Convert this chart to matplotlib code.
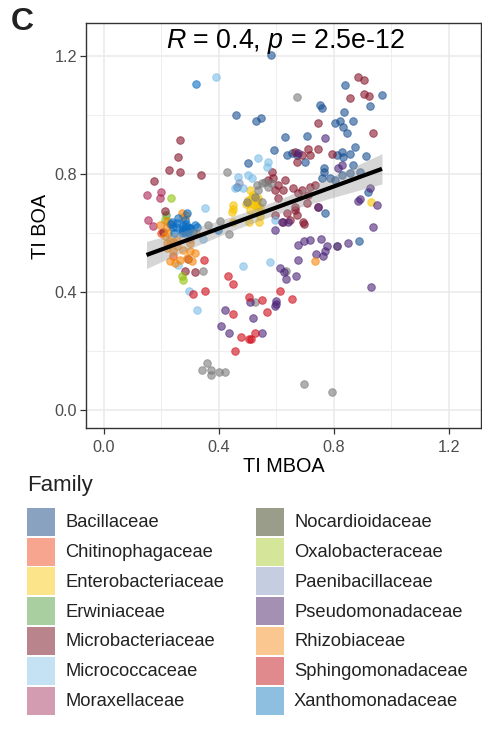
import numpy as np
import matplotlib
matplotlib.use("Agg")
import matplotlib.pyplot as plt
from matplotlib.patches import Rectangle

plt.rcParams['font.family'] = ['Liberation Sans', 'DejaVu Sans']
plt.rcParams['mathtext.fontset'] = 'custom'
plt.rcParams['mathtext.rm'] = 'Liberation Sans'
plt.rcParams['mathtext.it'] = 'Liberation Sans:italic'

# ---------------- data (TI MBOA, TI BOA) per family ----------------
families = ["Bacillaceae", "Chitinophagaceae", "Enterobacteriaceae", "Erwiniaceae",
            "Microbacteriaceae", "Micrococcaceae", "Moraxellaceae", "Nocardioidaceae",
            "Oxalobacteraceae", "Paenibacillaceae", "Pseudomonadaceae", "Rhizobiaceae",
            "Sphingomonadaceae", "Xanthomonadaceae"]

bacillaceae_mboa = [0.58, 0.459, 0.529, 0.545, 0.502, 0.591, 0.628, 0.635, 0.653, 0.67, 0.699, 0.706,
                    0.751, 0.757, 0.766, 0.766, 0.757, 0.786, 0.803, 0.803, 0.821, 0.832, 0.844, 0.835,
                    0.838, 0.867, 0.873, 0.827, 0.809, 0.856, 0.832, 0.827, 0.856, 0.867, 0.89, 0.919,
                    0.927, 0.967, 0.769, 0.887, 0.461, 0.91]
bacillaceae_boa = [1.203, 1.0, 0.981, 0.989, 0.836, 0.881, 0.925, 0.864, 0.87, 0.864, 0.842, 0.928,
                   1.033, 1.024, 0.819, 0.805, 0.785, 0.785, 0.78, 0.974, 0.981, 0.96, 0.938, 1.011,
                   1.103, 0.981, 0.893, 0.876, 0.864, 0.868, 0.859, 0.797, 0.802, 0.831, 0.808, 0.74,
                   1.031, 1.068, 0.667, 0.573, 0.757, 0.861]

chitinophagaceae_mboa = [0.2, 0.24]
chitinophagaceae_boa = [0.6, 0.52]

enterobacteriaceae_mboa = [0.508, 0.519, 0.537, 0.501, 0.519, 0.494, 0.531, 0.45, 0.45, 0.537, 0.508,
                           0.542, 0.45, 0.505, 0.928, 0.538, 0.525, 0.543, 0.502, 0.444, 0.514, 0.531]
enterobacteriaceae_boa = [0.744, 0.729, 0.717, 0.712, 0.698, 0.698, 0.696, 0.695, 0.681, 0.681, 0.676,
                          0.656, 0.638, 0.638, 0.706, 0.638, 0.695, 0.689, 0.70, 0.672, 0.723, 0.712]

erwiniaceae_mboa = [0.215]
erwiniaceae_boa = [0.66]

microbacteriaceae_mboa = [0.882, 0.906, 0.856, 0.904, 0.921, 0.743, 0.936, 0.266, 0.256, 0.227, 0.266,
                          0.337, 0.173, 0.211, 0.206, 0.664, 0.688, 0.71, 0.717, 0.67, 0.746, 0.792,
                          0.583, 0.589, 0.606, 0.63, 0.595, 0.624, 0.659, 0.688, 0.717, 0.734, 0.676,
                          0.711, 0.705, 0.664, 0.67, 0.693, 0.571, 0.606, 0.635, 0.664, 0.697, 0.746,
                          0.647, 0.624, 0.595, 0.283, 0.317, 0.293]
microbacteriaceae_boa = [1.129, 1.119, 1.057, 1.073, 1.064, 0.973, 0.939, 0.914, 0.858, 0.812, 0.806,
                         0.797, 0.776, 0.674, 0.604, 0.876, 0.866, 0.885, 0.864, 0.842, 0.884, 0.868,
                         0.808, 0.785, 0.763, 0.78, 0.746, 0.746, 0.752, 0.746, 0.757, 0.763, 0.734,
                         0.729, 0.70, 0.678, 0.661, 0.638, 0.78, 0.718, 0.667, 0.689, 0.629, 0.689,
                         0.644, 0.638, 0.661, 0.472, 0.468, 0.511]

micrococcaceae_mboa = [0.39, 0.537, 0.571, 0.566, 0.467, 0.502, 0.456, 0.514, 0.485, 0.352, 0.577,
                       0.482, 0.297, 0.325, 0.257, 0.345, 0.595]
micrococcaceae_boa = [1.13, 0.853, 0.842, 0.825, 0.791, 0.797, 0.752, 0.785, 0.752, 0.684, 0.5,
                      0.488, 0.401, 0.339, 0.492, 0.579, 0.644]

moraxellaceae_mboa = [0.148, 0.2, 0.195, 0.153, 0.172]
moraxellaceae_boa = [0.729, 0.74, 0.718, 0.644, 0.622]

nocardioidaceae_mboa = [0.67, 0.427, 0.531, 0.548, 0.56, 0.537, 0.571, 0.496, 0.549, 0.58, 0.525,
                        0.363, 0.405, 0.436, 0.343, 0.633, 0.525, 0.809, 0.36, 0.34, 0.371, 0.399,
                        0.422, 0.371, 0.696, 0.793]
nocardioidaceae_boa = [1.06, 0.808, 0.763, 0.768, 0.774, 0.746, 0.757, 0.706, 0.706, 0.768, 0.723,
                       0.625, 0.64, 0.597, 0.472, 0.472, 0.364, 0.556, 0.158, 0.133, 0.133, 0.129,
                       0.129, 0.118, 0.088, 0.061]

oxalobacteraceae_mboa = [0.232, 0.214, 0.27, 0.275]
oxalobacteraceae_boa = [0.72, 0.645, 0.452, 0.44]

paenibacillaceae_mboa = [0.3, 0.47]
paenibacillaceae_boa = [0.58, 0.77]

pseudomonadaceae_mboa = [0.769, 0.827, 0.815, 0.925, 0.89, 0.885, 0.948, 0.937, 0.746, 0.676, 0.595,
                         0.618, 0.641, 0.674, 0.697, 0.717, 0.755, 0.775, 0.809, 0.848, 0.769, 0.737,
                         0.763, 0.674, 0.612, 0.625, 0.633, 0.668, 0.928, 0.598, 0.596, 0.598, 0.508,
                         0.519, 0.42, 0.408, 0.436, 0.55]
pseudomonadaceae_boa = [0.921, 0.831, 0.819, 0.751, 0.714, 0.708, 0.695, 0.621, 0.689, 0.872, 0.61,
                        0.638, 0.638, 0.559, 0.573, 0.576, 0.58, 0.557, 0.554, 0.565, 0.537, 0.528,
                        0.52, 0.508, 0.48, 0.468, 0.445, 0.454, 0.415, 0.37, 0.353, 0.36, 0.365,
                        0.311, 0.337, 0.283, 0.26, 0.26]

rhizobiaceae_mboa = [0.27, 0.276, 0.218, 0.195, 0.212, 0.23, 0.253, 0.241, 0.276, 0.299, 0.317, 0.264,
                     0.288, 0.305, 0.23, 0.247, 0.299, 0.218, 0.224, 0.734, 0.22, 0.241, 0.253, 0.22,
                     0.287, 0.32, 0.23]
rhizobiaceae_boa = [0.667, 0.655, 0.621, 0.627, 0.588, 0.571, 0.554, 0.537, 0.542, 0.537, 0.531, 0.508,
                    0.514, 0.503, 0.503, 0.497, 0.565, 0.548, 0.599, 0.505, 0.565, 0.57, 0.576, 0.64,
                    0.661, 0.6, 0.631]

sphingomonadaceae_mboa = [0.348, 0.43, 0.45, 0.35, 0.311, 0.45, 0.506, 0.55, 0.566, 0.613, 0.655, 0.478,
                          0.503, 0.51, 0.525, 0.457]
sphingomonadaceae_boa = [0.508, 0.455, 0.426, 0.401, 0.393, 0.323, 0.383, 0.372, 0.331, 0.401, 0.375,
                         0.246, 0.238, 0.24, 0.26, 0.199]

xanthomonadaceae_mboa = [0.32, 0.259, 0.288, 0.255, 0.241, 0.276, 0.299, 0.311, 0.282, 0.322, 0.27,
                         0.293, 0.235, 0.398, 0.282, 0.317, 0.25, 0.288, 0.27, 0.3, 0.243, 0.232,
                         0.28, 0.29, 0.275, 0.285]
xanthomonadaceae_boa = [1.107, 0.65, 0.667, 0.633, 0.621, 0.627, 0.616, 0.604, 0.599, 0.621, 0.61,
                        0.604, 0.638, 0.61, 0.644, 0.625, 0.621, 0.608, 0.599, 0.616, 0.60, 0.63,
                        0.615, 0.62, 0.605, 0.63]

series_mboa = [bacillaceae_mboa, chitinophagaceae_mboa, enterobacteriaceae_mboa, erwiniaceae_mboa,
               microbacteriaceae_mboa, micrococcaceae_mboa, moraxellaceae_mboa, nocardioidaceae_mboa,
               oxalobacteraceae_mboa, paenibacillaceae_mboa, pseudomonadaceae_mboa, rhizobiaceae_mboa,
               sphingomonadaceae_mboa, xanthomonadaceae_mboa]
series_boa = [bacillaceae_boa, chitinophagaceae_boa, enterobacteriaceae_boa, erwiniaceae_boa,
              microbacteriaceae_boa, micrococcaceae_boa, moraxellaceae_boa, nocardioidaceae_boa,
              oxalobacteraceae_boa, paenibacillaceae_boa, pseudomonadaceae_boa, rhizobiaceae_boa,
              sphingomonadaceae_boa, xanthomonadaceae_boa]

annotation = r"$\mathit{R}$ = 0.4, $\mathit{p}$ = 2.5e-12"
ticks = [0.0, 0.4, 0.8, 1.2]
tick_labels = ["0.0", "0.4", "0.8", "1.2"]

# ---------------- styles ----------------
point_colors = ["#1A5092", "#F04316", "#F5C300", "#4C9937", "#85142A", "#7ABDE8", "#AB2355",
                "#7A7A7A", "#92C30B", "#8697C0", "#4B2379", "#F5860B", "#D00B17", "#0A6DC3"]
legend_colors = ["#88A2C0", "#F8A58F", "#FCE48B", "#A9CE9F", "#BA848C", "#C5E2F4", "#D49CB0",
                 "#999D89", "#D5E59A", "#C5CDE1", "#A390B2", "#F9C78F", "#E08A8E", "#8FBFE0"]

W, H = 482, 729
fig = plt.figure(figsize=(W / 100, H / 100), dpi=100)

def fx(px):
    return px / W

def fy(py):
    return 1 - py / H

ax = fig.add_axes([fx(86), fy(428), fx(481.3) - fx(86), fy(23) - fy(428)])
ax.set_xlim(-0.0625, 1.3125)
ax.set_ylim(-0.0625, 1.3125)

# grid
for v in [0.2, 0.6, 1.0]:
    ax.axvline(v, color="#EBEBEB", lw=0.6, zorder=0)
    ax.axhline(v, color="#EBEBEB", lw=0.6, zorder=0)
for v in ticks:
    ax.axvline(v, color="#EBEBEB", lw=1.2, zorder=0)
    ax.axhline(v, color="#EBEBEB", lw=1.2, zorder=0)

# points
all_x, all_y = [], []
for xs, ys, c in zip(series_mboa, series_boa, point_colors):
    ax.scatter(xs, ys, s=30, color=c, edgecolors=c, linewidths=0.7, alpha=0.6, zorder=2)
    all_x += xs
    all_y += ys

# linear fit with 95% CI
X = np.array(all_x)
Y = np.array(all_y)
n = len(X)
b, a = np.polyfit(X, Y, 1)
resid = Y - (a + b * X)
s = np.sqrt(np.sum(resid ** 2) / (n - 2))
xm = X.mean()
sxx = np.sum((X - xm) ** 2)
xg = np.linspace(X.min(), X.max(), 100)
yg = a + b * xg
se = s * np.sqrt(1 / n + (xg - xm) ** 2 / sxx)
tq = 1.969
ax.fill_between(xg, yg - tq * se, yg + tq * se, color="#999999", alpha=0.4, lw=0, zorder=3)
ax.plot(xg, yg, color="black", lw=3.0, zorder=4, solid_capstyle="butt")

ax.set_xticks(ticks)
ax.set_yticks(ticks)
ax.set_xticklabels(tick_labels)
ax.set_yticklabels(tick_labels)
ax.tick_params(axis="both", length=4, width=0.9, color="#333333", labelcolor="#4D4D4D",
               labelsize=11.7, pad=2.5)
ax.tick_params(axis="x", pad=4.5)
for sp in ax.spines.values():
    sp.set_color("#333333")
    sp.set_linewidth(1.0)

fig.text(fx(285), fy(41), annotation, ha="center", va="center", fontsize=19.3, color="black")

fig.text(fx(283.5), fy(466), "TI MBOA", ha="center", va="center", fontsize=14.3, color="black")
fig.text(fx(41), fy(226), "TI BOA", ha="center", va="center", fontsize=14.3, rotation=90, color="black")
fig.text(fx(11), fy(22), "C", ha="left", va="center", fontsize=23, fontweight="bold", color="#222222")

# legend
fig.text(fx(27), fy(486), "Family", ha="left", va="center", fontsize=16, color="#222222")
half = (len(families) + 1) // 2
for i, (name, col) in enumerate(zip(families, legend_colors)):
    colx = 27.3 if i < half else 256.0
    row = i if i < half else i - half
    top = 507.7 + 29.8 * row
    rect = Rectangle((fx(colx), fy(top + 28)), fx(27.7), 28 / H, transform=fig.transFigure,
                     facecolor=col, edgecolor="none")
    fig.patches.append(rect)
    fig.text(fx(colx + 38), fy(top + 15), name, ha="left", va="center", fontsize=13.2, color="#222222")

fig.savefig("out.png", dpi=100)
